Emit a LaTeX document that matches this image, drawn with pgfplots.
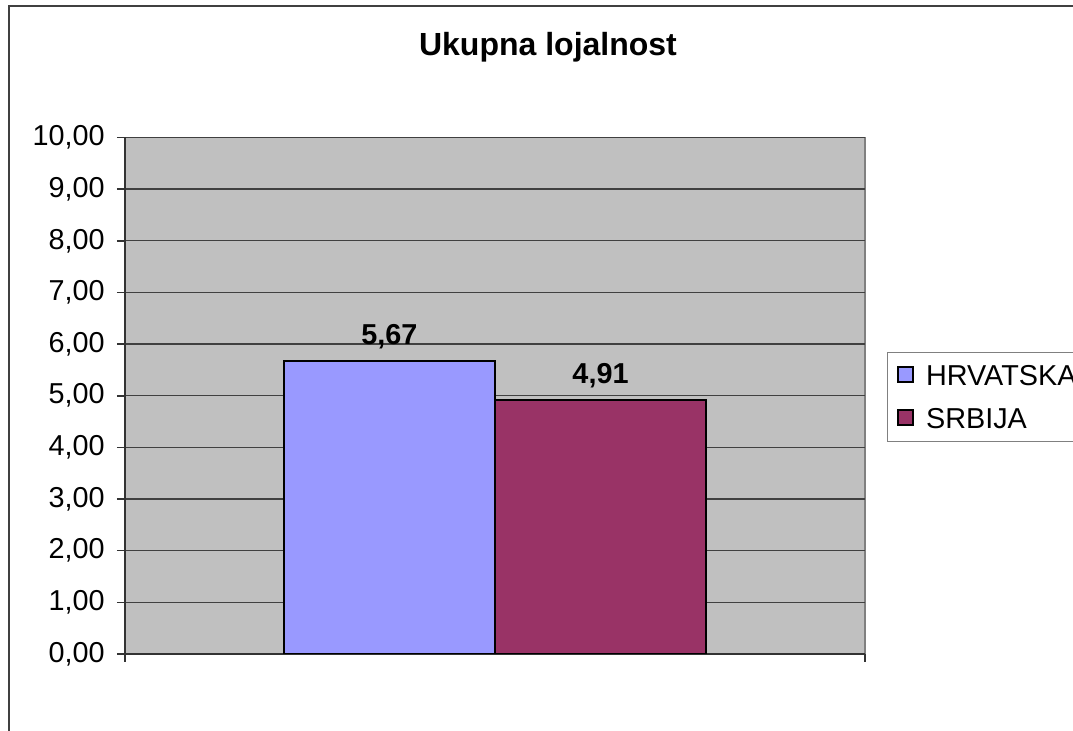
\documentclass[border=0pt]{standalone}
\usepackage{pgfplots}
\pgfplotsset{compat=1.18}
\usepackage{fontspec}
\setmainfont{Liberation Sans}
\definecolor{hrv}{HTML}{9999FF}
\definecolor{srb}{HTML}{993366}
\definecolor{plotbg}{HTML}{C0C0C0}
\definecolor{framegray}{HTML}{404040}
\begin{document}
\begin{tikzpicture}[font=\fontsize{14.4}{17}\selectfont]
\useasboundingbox (0,0) rectangle (536.5pt,-365.5pt);
\clip (0,0) rectangle (536.5pt,-365.5pt);
% chart area frame (cut off right and bottom)
\draw[framegray, line width=1pt] (4.5pt,-3pt) rectangle (600pt,-420pt);
\node[anchor=base, font=\fontsize{16}{19}\selectfont\bfseries] at (274pt,-28pt) {Ukupna lojalnost};
\begin{axis}[
    at={(62.5pt,-327pt)}, anchor=south west,
    scale only axis, width=370pt, height=258.25pt,
    xmin=0, xmax=1, ymin=0, ymax=10,
    axis x line*=bottom, axis y line*=left,
    axis line style={black!80, line width=0.8pt},
    axis background/.style={fill=plotbg, draw=gray, line width=0.8pt},
    xtick={0,1}, xticklabels={},
    ytick={0,1,...,10},
    tick align=outside, major tick length=4pt,
    tick style={black!80, line width=0.8pt},
    ymajorgrids, major grid style={black!75, line width=0.7pt},
    tick label style={font=\fontsize{14.4}{17}\selectfont},
    yticklabel style={inner sep=0pt, xshift=-6pt},
    /pgf/number format/.cd, fixed, fixed zerofill, precision=2, use comma, assume math mode=true,
    /pgfplots/.cd,
    ybar=0pt, bar width=105.5pt,
    nodes near coords,
    nodes near coords style={anchor=base, yshift=8.5pt, font=\fontsize{14.4}{17}\selectfont\bfseries},
    legend style={at={(1.0293,0.5853)}, anchor=north west, draw=gray, line width=0.6pt,
        fill=white, inner xsep=5pt, inner ysep=5.2pt, row sep=8.75pt, column sep=6pt,
        nodes={inner sep=0pt}, font=\fontsize{14.4}{17}\selectfont},
    legend cell align=left,
    legend image code/.code={\draw[#1, draw=black, line width=0.9pt] (0pt,-3.1pt) rectangle (7.5pt,4.4pt);},
]
\addplot[fill=hrv, draw=black, line width=0.9pt, bar shift=0pt] coordinates {(0.3574,5.67)};
\addlegendentry{\makebox[100pt][l]{\rule{0pt}{11.3pt}HRVATSKA}}
\addplot[fill=srb, draw=black, line width=0.9pt, bar shift=0pt] coordinates {(0.6426,4.91)};
\addlegendentry{\makebox[100pt][l]{\rule{0pt}{11.3pt}SRBIJA}}
\end{axis}
\end{tikzpicture}
\end{document}
